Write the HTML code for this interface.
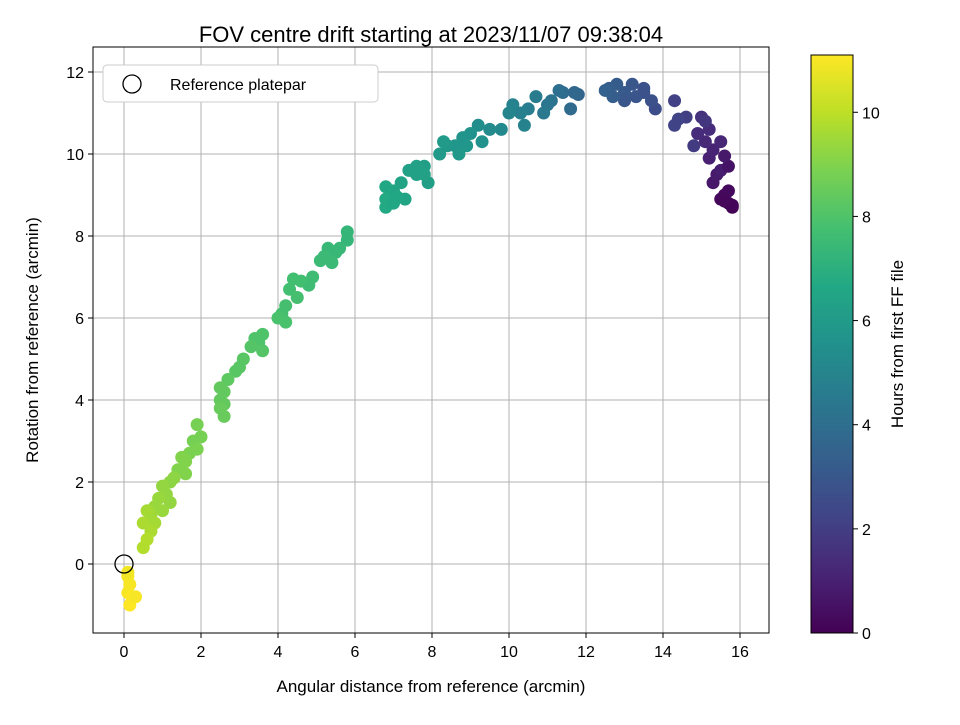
<!DOCTYPE html>
<html><head><meta charset="utf-8"><style>
body{margin:0;background:#fff;font-family:"Liberation Sans","DejaVu Sans",sans-serif}
svg text{font-family:"Liberation Sans","DejaVu Sans",sans-serif}
</style></head><body>
<svg id="chart" width="960" height="720" xmlns="http://www.w3.org/2000/svg">
<defs><linearGradient id="vir" x1="0" y1="1" x2="0" y2="0">
<stop offset="0" stop-color="#440154"/><stop offset="0.1" stop-color="#482475"/><stop offset="0.2" stop-color="#414487"/><stop offset="0.3" stop-color="#355f8d"/><stop offset="0.4" stop-color="#2a788e"/><stop offset="0.5" stop-color="#21918c"/><stop offset="0.6" stop-color="#22a884"/><stop offset="0.7" stop-color="#44bf70"/><stop offset="0.8" stop-color="#7ad151"/><stop offset="0.9" stop-color="#bddf26"/><stop offset="1" stop-color="#fde725"/></linearGradient></defs>
<text x="431" y="42" font-size="22" text-anchor="middle">FOV centre drift starting at 2023/11/07 09:38:04</text>
<g id="grid"></g><g id="pts"></g><g id="axes"></g>
</svg>
<script>
const xs=[15.7,15.6,15.8,15.7,15.5,15.8,15.6,15.3,15.4,15.5,15.7,15.2,15.6,15.3,15.1,15.5,14.9,15.2,15.0,15.1,14.8,14.6,14.3,14.3,14.4,13.8,13.7,13.5,13.2,13.3,13.0,12.8,12.6,12.5,13.0,13.5,12.7,11.8,11.7,11.6,11.4,11.3,11.1,11.0,10.9,10.7,10.5,10.3,10.1,10.0,10.4,9.8,9.5,9.2,9.3,9.0,8.8,8.6,8.4,8.2,8.9,8.7,8.3,7.8,7.6,7.4,7.2,7.0,6.8,6.8,6.8,7.0,7.1,7.3,7.9,7.8,7.6,5.8,5.8,5.6,5.5,5.3,5.2,5.1,5.4,4.9,4.8,4.6,4.4,4.3,4.5,4.2,4.1,4.0,4.2,3.6,3.5,3.4,3.6,3.3,3.1,3.0,2.9,2.7,2.5,2.6,2.5,2.6,2.5,2.6,1.9,2.0,1.8,1.9,1.7,1.6,1.5,1.4,1.6,1.3,1.2,1.0,1.1,1.2,0.9,0.8,1.0,0.7,0.6,0.8,0.5,0.7,0.6,0.5,0.1,0.15,0.1,0.2,0.15,0.3,0.1];
const ys=[8.8,9.0,8.7,9.1,8.9,8.75,8.85,9.3,9.5,9.6,9.7,9.9,9.95,10.1,10.3,10.3,10.5,10.6,10.9,10.8,10.2,10.9,10.7,11.3,10.85,11.1,11.3,11.5,11.7,11.4,11.5,11.7,11.6,11.55,11.3,11.6,11.4,11.45,11.5,11.1,11.5,11.55,11.3,11.2,11.0,11.4,11.1,11.0,11.2,11.0,10.7,10.6,10.6,10.7,10.3,10.5,10.4,10.2,10.2,10.0,10.2,10.0,10.3,9.7,9.5,9.6,9.3,9.1,9.2,8.9,8.7,8.8,8.95,8.9,9.3,9.5,9.7,8.1,7.9,7.7,7.6,7.7,7.5,7.4,7.35,7.0,6.8,6.9,6.95,6.7,6.5,6.3,6.1,6.0,5.9,5.6,5.4,5.5,5.2,5.3,5.0,4.8,4.7,4.5,4.3,4.2,4.0,3.9,3.8,3.6,3.4,3.1,3.0,2.8,2.7,2.5,2.6,2.3,2.2,2.1,2.0,1.9,1.7,1.5,1.6,1.4,1.3,1.2,1.3,1.0,1.0,0.8,0.6,0.4,-0.3,-0.5,-0.7,-0.8,-1.0,-0.8,-0.2];
const ts=[0.1,0.2,0.05,0.3,0.25,0.1,0.2,0.7,0.8,0.9,0.6,1.0,0.75,1.1,1.3,1.2,1.4,1.4,1.6,1.7,1.9,2.0,2.2,2.1,2.2,2.6,2.7,2.8,3.0,2.9,3.1,3.2,3.3,3.4,3.0,2.8,3.3,3.6,3.7,3.8,3.9,4.0,4.2,4.3,4.5,4.6,4.7,4.8,4.9,5.0,4.9,5.2,5.3,5.4,5.6,5.6,5.7,5.8,5.9,6.0,5.8,5.9,6.0,6.2,6.3,6.3,6.4,6.5,6.6,6.7,6.7,6.6,6.6,6.5,6.2,6.3,6.3,7.3,7.3,7.4,7.4,7.4,7.5,7.5,7.5,7.6,7.6,7.7,7.7,7.7,7.8,7.8,7.8,7.9,7.9,8.0,8.0,8.0,8.1,8.1,8.2,8.2,8.2,8.3,8.4,8.4,8.4,8.4,8.5,8.5,8.8,8.8,8.8,8.9,8.9,9.0,9.0,9.0,9.0,9.2,9.2,9.3,9.3,9.3,9.4,9.4,9.4,9.5,9.6,9.6,9.7,9.7,9.8,9.8,11.0,11.0,11.0,11.1,11.1,11.0,10.9];
const xTicks=[0,2,4,6,8,10,12,14,16];
const yTicks=[0,2,4,6,8,10,12];
const cTicks=[0,2,4,6,8,10];
const tMax=11.1;
const X=v=>124+v*38.5, Y=v=>564-v*41;
const NS="http://www.w3.org/2000/svg";
function mk(tag,at,parent,txt){const e=document.createElementNS(NS,tag);for(const k in at)e.setAttribute(k,at[k]);if(txt!==undefined)e.textContent=txt;parent.appendChild(e);return e;}
const stops=[[0,[68,1,84]],[.1,[72,36,117]],[.2,[65,68,135]],[.3,[53,95,141]],[.4,[42,120,142]],[.5,[33,145,140]],[.6,[34,168,132]],[.7,[68,191,112]],[.8,[122,209,81]],[.9,[189,223,38]],[1,[253,231,37]]];
function vir(f){f=Math.max(0,Math.min(1,f));for(let i=1;i<stops.length;i++){if(f<=stops[i][0]){const a=stops[i-1],b=stops[i],u=(f-a[0])/(b[0]-a[0]);return `rgb(${a[1].map((c,j)=>Math.round(c+(b[1][j]-c)*u)).join(',')})`;}}return 'rgb(253,231,37)';}
const g=document.getElementById('grid'),p=document.getElementById('pts'),ax=document.getElementById('axes');
xTicks.forEach(v=>{const l=mk('line',{x1:X(v),x2:X(v),y1:47,y2:633,stroke:'#b0b0b0','stroke-width':1},g);

mk('line',{x1:X(v),x2:X(v),y1:633,y2:638,stroke:'#000'},ax);
const t=mk('text',{x:X(v),y:657,'font-size':16,'text-anchor':'middle'},ax,String(v));
});
yTicks.forEach(v=>{const l=mk('line',{x1:93,x2:769,y1:Y(v),y2:Y(v),stroke:'#b0b0b0','stroke-width':1},g);

mk('line',{x1:88,x2:93,y1:Y(v),y2:Y(v),stroke:'#000'},ax);
const t=mk('text',{x:84,y:Y(v)+6,'font-size':16,'text-anchor':'end'},ax,String(v));
});
xs.forEach((x,i)=>{const c=mk('circle',{cx:X(x),cy:Y(ys[i]),r:6.5,fill:vir(ts[i]/tMax)},p);
});
const ref=mk('circle',{cx:X(0),cy:Y(0),r:9,fill:'none',stroke:'#000','stroke-width':1.3},ax);

const fr=mk('rect',{x:93,y:47,width:676,height:586,fill:'none',stroke:'#000','stroke-width':1},ax);

const xl=mk('text',{x:431,y:692,'font-size':17,'text-anchor':'middle'},ax,'Angular distance from reference (arcmin)');

const yl=mk('text',{x:38,y:340,'font-size':17,'text-anchor':'middle',transform:'rotate(-90 38 340)'},ax,'Rotation from reference (arcmin)');

const lg=mk('g',{},ax);
mk('rect',{x:103,y:65,width:275,height:37,rx:4,fill:'#fff',stroke:'#ccc'},lg);
mk('circle',{cx:132,cy:84,r:9,fill:'none',stroke:'#000','stroke-width':1.3},lg);
const lt=mk('text',{x:170,y:90,'font-size':16},lg,'Reference platepar');

const C=v=>633-v*(578/tMax);
const cb=mk('rect',{x:811,y:C(tMax),width:42,height:C(0)-C(tMax),fill:'url(#vir)',stroke:'#000'},ax);

cTicks.forEach(v=>{mk('line',{x1:853,x2:858,y1:C(v),y2:C(v),stroke:'#000'},ax);
const t=mk('text',{x:862,y:C(v)+6,'font-size':16},ax,String(v));
});
const cl=mk('text',{x:903,y:344,'font-size':17,'text-anchor':'middle',transform:'rotate(-90 903 344)'},ax,'Hours from first FF file');

</script>
</body></html>
